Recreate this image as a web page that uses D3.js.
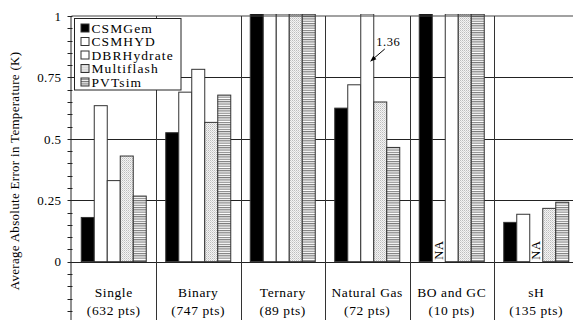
<!DOCTYPE html>
<html><head><meta charset="utf-8">
<script src="https://cdn.jsdelivr.net/npm/d3@7"></script>
<style>
html,body{margin:0;padding:0;background:#fff;overflow:hidden}
text{font-family:"Liberation Serif","Times New Roman",serif;fill:#000}
</style></head>
<body>
<svg id="chart" width="573" height="320"></svg>
<script>
// ---- data ----
const categories = ["Single","Binary","Ternary","Natural Gas","BO and GC","sH"];
const pointCounts = ["(632 pts)","(747 pts)","(89 pts)","(72 pts)","(10 pts)","(135 pts)"];
const seriesNames = ["CSMGem","CSMHYD","DBRHydrate","Multiflash","PVTsim"];
// values in K; null = NA; values above 1 are clipped at the top of the chart
const CSMGem     = [0.18, 0.525, 1.5, 0.625, 1.5, 0.16];
const CSMHYD     = [0.635, 0.69, 1.5, 0.72, null, 0.193];
const DBRHydrate = [0.33, 0.783, 1.5, 1.36, 1.5, null];
const Multiflash = [0.43, 0.567, 1.5, 0.65, 1.5, 0.217];
const PVTsim     = [0.267, 0.678, 1.5, 0.465, 1.5, 0.242];
const yTickValues = [-0.25, 0, 0.25, 0.5, 0.75, 1];
const yTickLabels = ["-0.25","0","0.25","0.5","0.75","1"];
const annotationText = "1.36";

const seriesValues = [CSMGem, CSMHYD, DBRHydrate, Multiflash, PVTsim];

const svg = d3.select("#chart");
const defs = svg.append("defs");
// patterns
const pDot = defs.append("pattern").attr("id","pDot").attr("patternUnits","userSpaceOnUse").attr("width",2).attr("height",2);
pDot.append("rect").attr("width",2).attr("height",2).attr("fill","#f4f4f4");
pDot.append("rect").attr("width",1).attr("height",1).attr("fill","#bdbdbd");
pDot.append("rect").attr("x",1).attr("y",1).attr("width",1).attr("height",1).attr("fill","#d6d6d6");
const pStr = defs.append("pattern").attr("id","pStr").attr("patternUnits","userSpaceOnUse").attr("width",4).attr("height",2.3);
pStr.append("rect").attr("width",4).attr("height",2.3).attr("fill","#fff");
pStr.append("rect").attr("width",4).attr("height",1.1).attr("fill","#7a7a7a");
const fills = ["#000","#fff","#fff","url(#pDot)","url(#pStr)"];

const pLeft = 71.5, pRight = 578.5, pTop = 16, pBottom = 323.1;
const x = d3.scaleBand().domain(categories).range([pLeft, pRight]).paddingInner(0).paddingOuter(0);
const pad = 9.75;
const xs = d3.scaleBand().domain(seriesNames).range([pad, x.bandwidth()-pad]).padding(0);
const y = d3.scaleLinear().domain([-0.25, 1]).range([pBottom, pTop]);

const clip = defs.append("clipPath").attr("id","plotClip");
clip.append("rect").attr("x",pLeft).attr("y",pTop-2).attr("width",pRight-pLeft).attr("height",pBottom-pTop+2);

// horizontal gridlines
svg.append("g").selectAll("line").data([0.25,0.5,0.75]).join("line")
  .attr("x1",pLeft).attr("x2",573).attr("y1",d=>Math.round(y(d))+0.5).attr("y2",d=>Math.round(y(d))+0.5)
  .attr("stroke","#222").attr("stroke-width",1);

// bars
const barData = [];
categories.forEach((c,i)=>{
  seriesNames.forEach((s,j)=>{
    barData.push({cat:c, ser:s, j:j, v:seriesValues[j][i]});
  });
});
const gBars = svg.append("g").attr("clip-path","url(#plotClip)");
gBars.selectAll("rect").data(barData.filter(d=>d.v!==null)).join("rect")
  .attr("x",d=>x(d.cat)+xs(d.ser))
  .attr("width",xs.bandwidth())
  .attr("y",d=>Math.max(y(d.v), pTop-2))
  .attr("height",d=>y(0)-Math.max(y(d.v), pTop-2))
  .attr("fill",d=>fills[d.j])
  .attr("stroke","#333").attr("stroke-width",1);

// NA labels
svg.append("g").selectAll("text").data(barData.filter(d=>d.v===null)).join("text")
  .attr("transform",d=>`translate(${x(d.cat)+xs(d.ser)+xs.bandwidth()/2+4},${y(0)-2}) rotate(-90)`)
  .attr("font-size",12.5).attr("letter-spacing",0.6).text("NA");

// zero line
svg.append("line").attr("x1",pLeft).attr("x2",573).attr("y1",Math.round(y(0))+0.5).attr("y2",Math.round(y(0))+0.5)
  .attr("stroke","#222");
// top border
svg.append("line").attr("x1",pLeft).attr("x2",573).attr("y1",pTop).attr("y2",pTop).attr("stroke","#444").attr("stroke-width",1.2);

// category separators
svg.append("g").selectAll("line").data(categories.slice(1)).join("line")
  .attr("x1",d=>Math.round(x(d))+0.5).attr("x2",d=>Math.round(x(d))+0.5)
  .attr("y1",pTop).attr("y2",320).attr("stroke","#333").attr("stroke-width",1);

// y axis
const yAxis = d3.axisLeft(y).tickValues(yTickValues).tickFormat((d,i)=>yTickLabels[i]).tickSize(0).tickPadding(9);
const gy = svg.append("g").attr("transform",`translate(${pLeft-1},0)`).call(yAxis);
gy.select(".domain").attr("stroke","#222");
gy.selectAll("text").attr("font-family","Liberation Serif").attr("font-size",13).attr("letter-spacing",0.4);
const minor = d3.range(-0.25, 1.0001, 0.05);
gy.append("g").selectAll("line").data(minor).join("line")
  .attr("x1",-3).attr("x2",2).attr("y1",d=>Math.round(y(d))+0.5).attr("y2",d=>Math.round(y(d))+0.5)
  .attr("stroke","#222");

// y title
svg.append("text").attr("transform",`translate(19,171) rotate(-90)`)
  .attr("text-anchor","middle").attr("font-size",13).attr("letter-spacing",0.3)
  .text("Average Absolute Error in Temperature (K)");

// category labels
const gx = svg.append("g");
gx.selectAll("text.c").data(categories).join("text").attr("class","c")
  .attr("x",d=>x(d)+x.bandwidth()/2).attr("y",297).attr("text-anchor","middle")
  .attr("font-size",13.5).attr("letter-spacing",0.6).text(d=>d);
gx.selectAll("text.p").data(categories).join("text").attr("class","p")
  .attr("x",d=>x(d)+x.bandwidth()/2).attr("y",315).attr("text-anchor","middle")
  .attr("font-size",13.5).attr("letter-spacing",0.6).text((d,i)=>pointCounts[i]);

// annotation 1.36
const ngDbrX = x("Natural Gas")+xs("DBRHydrate")+xs.bandwidth();
defs.append("marker").attr("id","arr").attr("viewBox","0 0 10 10").attr("refX",9).attr("refY",5)
  .attr("markerWidth",6).attr("markerHeight",6).attr("orient","auto")
  .append("path").attr("d","M0,1 L10,5 L0,9 Z").attr("fill","#000");
svg.append("line").attr("x1",ngDbrX+11).attr("y1",49).attr("x2",ngDbrX-3).attr("y2",61)
  .attr("stroke","#000").attr("stroke-width",1).attr("marker-end","url(#arr)");
svg.append("text").attr("x",ngDbrX+2.5).attr("y",46).attr("font-size",12.5).attr("letter-spacing",0.5).text(annotationText);

// legend
const lg = svg.append("g").attr("transform","translate(74.5,18.5)");
lg.append("rect").attr("width",106.5).attr("height",71.5).attr("fill","#fff").attr("stroke","#222");
const rows = lg.selectAll("g").data(seriesNames).join("g").attr("transform",(d,i)=>`translate(6,${4+i*13.5})`);
rows.append("rect").attr("x",0.5).attr("y",1.5).attr("width",8).attr("height",8).attr("fill",(d,i)=>fills[i]).attr("stroke","#333");
rows.append("text").attr("x",11).attr("y",10).attr("font-size",13.5).attr("letter-spacing",1.1).text(d=>d);
</script>
</body></html>
